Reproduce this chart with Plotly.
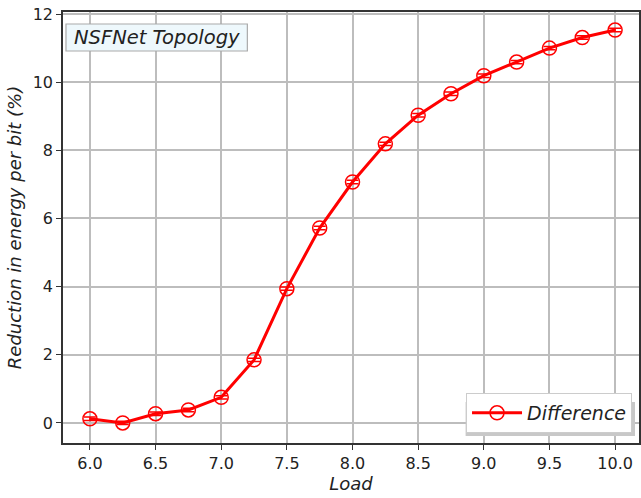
import plotly.graph_objects as go

load = [6.0, 6.25, 6.5, 6.75, 7.0, 7.25, 7.5, 7.75, 8.0, 8.25, 8.5, 8.75, 9.0, 9.25, 9.5, 9.75, 10.0]
reduction = [0.12, 0.0, 0.27, 0.38, 0.75, 1.85, 3.94, 5.72, 7.07, 8.19, 9.03, 9.66, 10.19, 10.59, 11.0, 11.31, 11.53]
err = [0.05] * len(load)
x_ticks = [6.0, 6.5, 7.0, 7.5, 8.0, 8.5, 9.0, 9.5, 10.0]
y_ticks = [0, 2, 4, 6, 8, 10, 12]

FONT = "DejaVu Sans"
W_PLOT, H_PLOT, L, B = 578, 431, 63, 443


def px(x):
    return (x - L) / W_PLOT


def py(y):
    return (B - y) / H_PLOT


fig = go.Figure()
fig.add_trace(go.Scatter(
    x=load, y=reduction, mode="lines+markers", name="<i>Difference</i>",
    line=dict(color="#ff0000", width=3),
    marker=dict(symbol="circle-open", size=14, color="#ff0000", line=dict(width=1.5, color="#ff0000")),
    error_y=dict(type="data", array=err, visible=True, color="#ff0000", thickness=1.5, width=6),
))

axis_common = dict(
    showline=True, linecolor="#333333", linewidth=1.5, mirror=True,
    showgrid=True, gridcolor="#bdbdbd", gridwidth=1.5,
    ticks="outside", ticklen=5, tickcolor="#333333", tickwidth=1.2,
    tickfont=dict(family=FONT, size=16, color="#222222"), zeroline=False,
)
fig.update_xaxes(range=[5.795, 10.182], tickvals=x_ticks, ticktext=[f"{v:.1f}" for v in x_ticks],
                 title=dict(text="<i>Load</i>", font=dict(family=FONT, size=18, color="#222222"), standoff=4),
                 **axis_common)
fig.update_yaxes(range=[-0.59, 12.06], tickvals=y_ticks,
                 title=dict(text="<i>Reduction in energy per bit (%)</i>", font=dict(family=FONT, size=18, color="#222222"), standoff=6),
                 **axis_common)

# legend shadow
fig.add_shape(type="rect", xref="paper", yref="paper",
              x0=px(467), x1=px(637), y0=py(436), y1=py(402),
              fillcolor="#c8c8c8", line=dict(width=0), layer="above")

# title box
fig.add_shape(type="rect", xref="paper", yref="paper",
              x0=px(66), x1=px(248), y0=py(51), y1=py(24),
              fillcolor="#eef8fc", line=dict(width=1.2, color="#aaaaaa"), layer="above")
fig.add_annotation(text="<i>NSFNet Topology</i>", xref="paper", yref="paper",
                   x=px(157), y=py(37.5), xanchor="center", yanchor="middle", showarrow=False,
                   font=dict(family=FONT, size=19.5, color="#222222"))

fig.update_layout(
    width=641, height=498, margin=dict(l=L, r=0, t=12, b=55),
    paper_bgcolor="white", plot_bgcolor="white",
    showlegend=True,
    legend=dict(x=px(634), y=py(433), xanchor="right", yanchor="bottom",
                bgcolor="white", bordercolor="#cccccc", borderwidth=1,
                font=dict(family=FONT, size=19, color="#222222"), itemwidth=50),
    font=dict(family=FONT),
)
fig.write_html("out.html")
